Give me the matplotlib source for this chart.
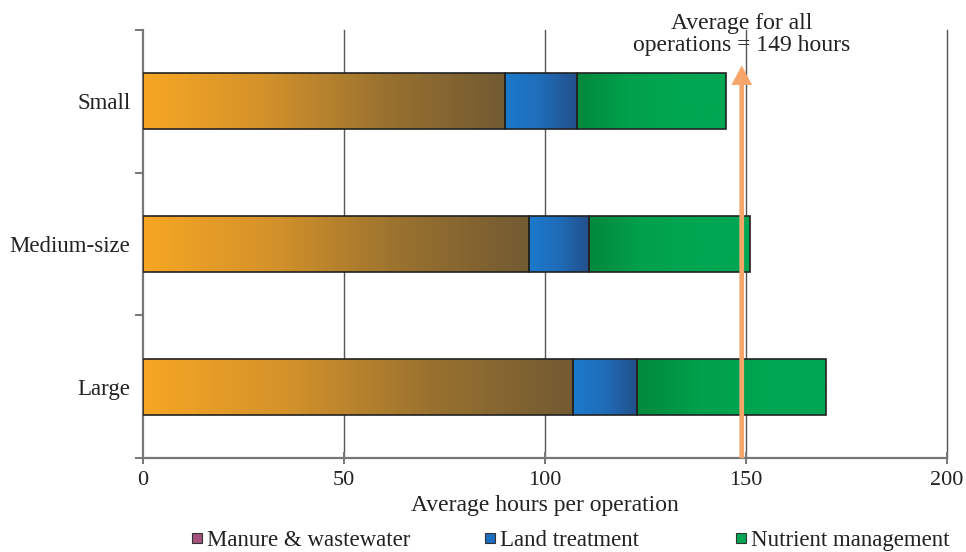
import numpy as np
import matplotlib
matplotlib.use('Agg')
import matplotlib.pyplot as plt
from matplotlib.colors import LinearSegmentedColormap
from matplotlib.patches import Rectangle

plt.rcParams['font.family'] = ['Liberation Serif', 'DejaVu Serif']

# data (top to bottom)
categories = ['Small', 'Medium-size', 'Large']
manure = [90, 96, 107]
land = [18, 15, 16]
nutrient = [37, 40, 47]
series_names = ['Manure & wastewater', 'Land treatment', 'Nutrient management']
average_all = 149
x_ticks = [0, 50, 100, 150, 200]

legend_colors = ['#a4527c', '#1b6dbf', '#00a651']
gradients = [
    ['#f6a623', '#d4922a', '#9a722f', '#725a32'],
    ['#1b7acc', '#1f6cb8', '#234f8a'],
    ['#00893c', '#00a04d', '#00a651', '#00a651'],
]
arrow_color = '#f6a66a'
axis_gray = '#777777'

W, H = 966, 552
fig = plt.figure(figsize=(W / 100, H / 100), dpi=100)
ax = fig.add_axes([0.148, 0.170, 0.832, 0.776])

ypos = np.arange(len(categories))[::-1]
bar_h = 0.39

lefts = np.zeros(len(categories))
for vals, cols in zip([manure, land, nutrient], gradients):
    cmap = LinearSegmentedColormap.from_list('g', cols)
    grad = np.linspace(0, 1, 256).reshape(1, -1)
    bars = ax.barh(ypos, vals, left=lefts, height=bar_h, facecolor='none',
                   edgecolor='#222222', linewidth=1.2, zorder=4)
    for b in bars:
        ax.imshow(grad, cmap=cmap, aspect='auto', zorder=3,
                  extent=(b.get_x(), b.get_x() + b.get_width(),
                          b.get_y(), b.get_y() + b.get_height()),
                  interpolation='bilinear')
    lefts = lefts + np.array(vals)

ax.set_xlim(0, 200)
ax.set_ylim(-0.5, len(categories) - 0.5)

# grid
for t in x_ticks[1:]:
    ax.axvline(t, color='#555555', linewidth=1.0, zorder=1, clip_on=False)

for s in ['top', 'right']:
    ax.spines[s].set_visible(False)
for s in ['left', 'bottom']:
    ax.spines[s].set_color(axis_gray)
    ax.spines[s].set_linewidth(1.6)

ax.set_xticks(x_ticks)
ax.set_xticklabels([str(t) for t in x_ticks], fontsize=16, color='#222222')
ax.tick_params(axis='x', direction='inout', length=9, width=1.4, color=axis_gray, pad=5)
ax.set_yticks(ypos)
ax.set_yticklabels(categories, fontsize=16.5, color='#222222')
ax.tick_params(axis='y', length=0, pad=9)
ax.set_yticks(np.arange(-0.5, len(categories), 1.0), minor=True)
ax.tick_params(axis='y', which='minor', direction='out', length=6, width=1.4, color=axis_gray)
ax.set_xlabel('Average hours per operation', fontsize=17, color='#222222', labelpad=3)

# average arrow
ax.annotate('', xy=(average_all, 2.25), xytext=(average_all, -0.5),
            arrowprops=dict(width=3.4, headwidth=15, headlength=14,
                            facecolor=arrow_color, edgecolor='none',
                            shrink=0),
            zorder=5, annotation_clip=False)
ax.text(average_all, 2.32, 'Average for all\noperations = 149 hours',
        ha='center', va='bottom', fontsize=17, color='#222222',
        linespacing=1.05, clip_on=False)

# legend, placed by hand to match the uneven column spacing
legend_x = [192, 485, 736]
legend_y = 538
box = 10
for name, c, lx in zip(series_names, legend_colors, legend_x):
    fig.patches.append(Rectangle((lx / W, (H - legend_y - box / 2) / H),
                                 box / W, box / H, facecolor=c, edgecolor='#333333',
                                 linewidth=0.8, transform=fig.transFigure))
    fig.text((lx + box + 5) / W, (H - legend_y) / H, name, fontsize=16.5,
             color='#222222', ha='left', va='center_baseline')

fig.savefig('out.png', dpi=100)
